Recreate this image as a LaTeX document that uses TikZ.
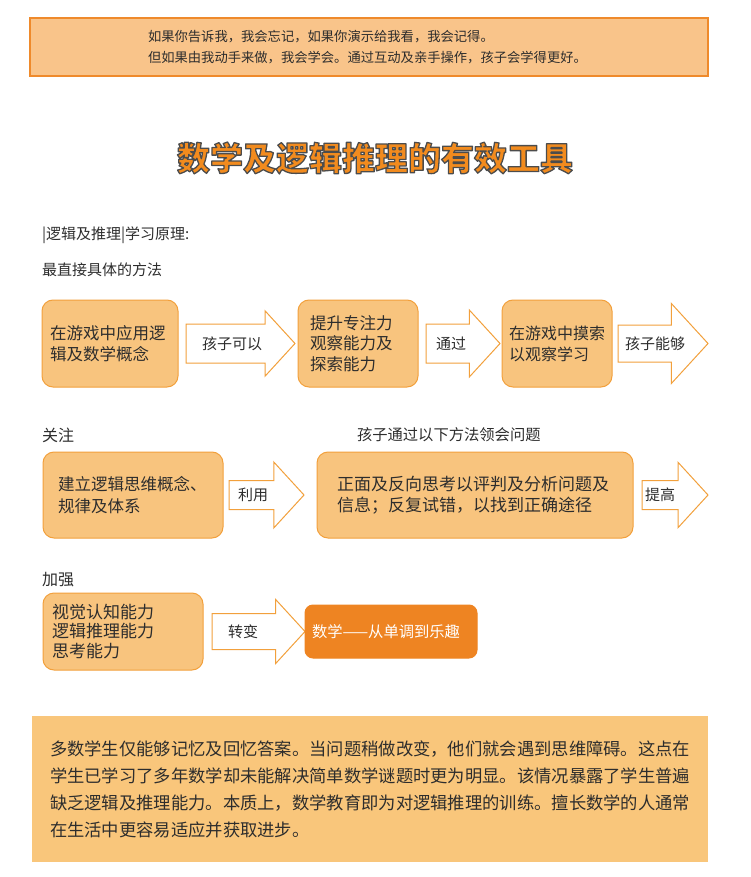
\documentclass[tikz,border=0pt]{standalone}
\usepackage{fontspec}
\setmainfont{Noto Sans CJK SC}
\usepackage{tikz}
\usetikzlibrary{positioning,calc,shapes.arrows}
\definecolor{ccream}{RGB}{248,196,126}
\definecolor{cline}{RGB}{242,160,60}
\definecolor{cdeep}{RGB}{238,132,34}
\definecolor{cbanner}{RGB}{249,196,138}
\definecolor{cbannerline}{RGB}{239,138,43}
\definecolor{cnote}{RGB}{249,198,123}
\definecolor{ctitle}{RGB}{242,139,30}
\definecolor{ctext}{RGB}{45,45,45}
\newcommand{\fsz}[2]{\fontsize{#1}{#2}\selectfont}
\newcommand{\outlined}[1]{\special{pdf:literal direct 2 Tr 1.3 w 1 j 1 J 0.3 0.3 0.3 RG}#1\special{pdf:literal direct 0 Tr}}

\begin{document}
\begin{tikzpicture}[x=1pt,y=-1pt,
  every node/.style={inner sep=0pt,outer sep=0pt,text=ctext},
  box/.style={draw=cline,fill=ccream,line width=1pt,rounded corners=11pt,align=left,inner ysep=0pt,anchor=west,font={\fsz{16.5}{20.5}}},
  fatarrow/.style={single arrow,draw=cline,fill=white,line width=1pt,inner xsep=0pt,single arrow tip angle=95,anchor=tail},
  tag/.style={anchor=west,font={\fsz{15}{18}}},
  head/.style={anchor=west,font={\fsz{15}{18}}},
  titletext/.style={font={\fsz{33}{36}\bfseries}}]
  \useasboundingbox (0,0) rectangle (750,877);

  \node[draw=cbannerline,fill=cbanner,line width=1.5pt,anchor=north west,minimum width=678pt,minimum height=58pt] (banner) at (30,18) {};
  \node[anchor=west,align=left,font={\fsz{13.3}{21}}] (motto) at (148,47) {如果你告诉我，我会忘记，如果你演示给我看，我会记得。\\但如果由我动手来做，我会学会。通过互动及亲手操作，孩子会学得更好。};

  \node[titletext,text=ctitle] (title) at (375,158) {\outlined{数学及逻辑推理的有效工具}};

  \node[head] (hprinciple) at (42,235) {|逻辑及推理|学习原理:};
  \node[head] (hmethod) at (42,270) {最直接具体的方法};

  \node[box,minimum width=136pt,minimum height=87pt,text width=120pt,inner xsep=8pt] (boxA) at (42,343.5) {在游戏中应用逻\\辑及数学概念};
  \node[fatarrow,minimum height=109pt,inner ysep=19pt,single arrow head extend=13pt] (arr1) at ([xshift=8pt]boxA.east) {};
  \node[tag] (lab1) at ([xshift=16pt]arr1.tail) {孩子可以};
  \node[box,minimum width=120pt,minimum height=87pt,text width=96pt,inner xsep=12pt] (boxB) at ([xshift=3pt]arr1.tip) {提升专注力\\观察能力及\\探索能力};
  \node[fatarrow,minimum height=74pt,inner ysep=19pt,single arrow head extend=14pt] (arr2) at ([xshift=8pt]boxB.east) {};
  \node[tag] (lab2) at ([xshift=10pt]arr2.tail) {通过};
  \node[box,minimum width=110pt,minimum height=87pt,text width=96pt,inner xsep=7pt,font={\fsz{16}{21}}] (boxC) at ([xshift=2pt]arr2.tip) {在游戏中摸索\\以观察学习};
  \node[fatarrow,minimum height=90pt,inner ysep=18pt,single arrow head extend=21.5pt] (arr3) at ([xshift=6pt]boxC.east) {};
  \node[tag] (lab3) at ([xshift=7pt]arr3.tail) {孩子能够};

  \node[head,font={\fsz{16}{18}}] (hfocus) at (42,435) {关注};
  \node[head,font={\fsz{15.3}{18}}] (hway) at (357,435) {孩子通过以下方法领会问题};

  \node[box,minimum width=180pt,minimum height=86pt,text width=150pt,inner xsep=15pt,font={\fsz{16.5}{22}}] (boxD) at (43,495) {建立逻辑思维概念、\\规律及体系};
  \node[fatarrow,minimum height=75pt,inner ysep=14pt,single arrow head extend=18.5pt] (arr4) at ([xshift=6pt]boxD.east) {};
  \node[tag] (lab4) at ([xshift=9pt]arr4.tail) {利用};
  \node[box,minimum width=316pt,minimum height=86pt,text width=276pt,inner xsep=20pt,font={\fsz{17}{21}}] (boxE) at ([xshift=13pt]arr4.tip) {正面及反向思考以评判及分析问题及\\信息；反复试错，以找到正确途径};
  \node[fatarrow,minimum height=66pt,inner ysep=14pt,single arrow head extend=18pt] (arr5) at ([xshift=9pt]boxE.east) {};
  \node[tag] (lab5) at ([xshift=3pt]arr5.tail) {提高};

  \node[head,font={\fsz{16}{18}}] (hboost) at (42,580) {加强};

  \node[box,minimum width=160pt,minimum height=77pt,text width=142pt,inner xsep=9pt,font={\fsz{17}{19.5}}] (boxF) at (43,631.5) {视觉认知能力\\逻辑推理能力\\思考能力};
  \node[fatarrow,minimum height=93pt,inner ysep=17.5pt,single arrow head extend=14pt] (arr6) at ([xshift=9pt]boxF.east) {};
  \node[tag] (lab6) at ([xshift=16pt]arr6.tail) {转变};
  \node[box,draw=cdeep,fill=cdeep,text=white,rounded corners=8pt,minimum width=172pt,minimum height=53pt,text width=158pt,inner xsep=7pt,font={\fsz{15.3}{18}}] (boxG) at (arr6.tip) {数学——从单调到乐趣};

  \node[fill=cnote,anchor=north west,minimum width=676pt,minimum height=146pt] (note) at (32,716) {};
  \node[anchor=west,align=left,text width=645pt,font={\fsz{17.3}{27}}] (notetext) at (50,789) {多数学生仅能够记忆及回忆答案。当问题稍做改变，他们就会遇到思维障碍。这点在\\学生已学习了多年数学却未能解决简单数学谜题时更为明显。该情况暴露了学生普遍\\缺乏逻辑及推理能力。本质上，数学教育即为对逻辑推理的训练。擅长数学的人通常\\在生活中更容易适应并获取进步。};
\end{tikzpicture}
\end{document}
